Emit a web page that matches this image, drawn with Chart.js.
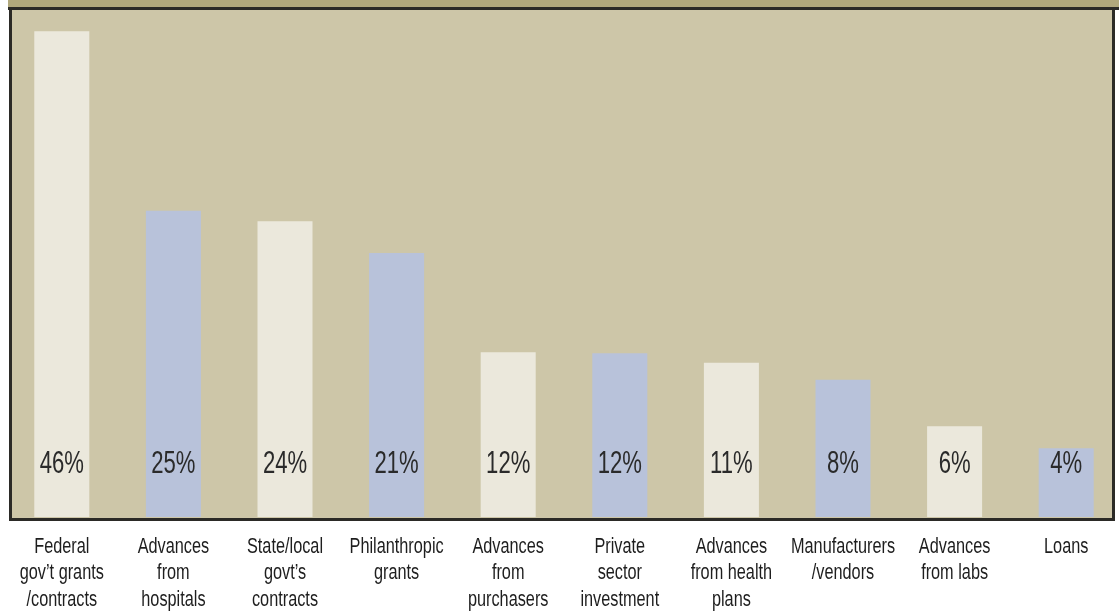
<!DOCTYPE html>
<html>
<head>
<meta charset="utf-8">
<script src="https://cdn.jsdelivr.net/npm/chart.js@4"></script>
<style>
    html, body { margin: 0; padding: 0; background: #ffffff; overflow: hidden; }
    #wrap { width: 1122px; height: 613px; position: relative; }
</style>
</head>
<body>
<div id="wrap"><canvas id="grafico-barras"></canvas></div>
<script>
    const CATEGORIES = [
        ['Federal', 'gov\u2019t grants', '/contracts'],
        ['Advances', 'from', 'hospitals'],
        ['State/local', 'govt\u2019s', 'contracts'],
        ['Philanthropic', 'grants'],
        ['Advances', 'from', 'purchasers'],
        ['Private', 'sector', 'investment'],
        ['Advances', 'from health', 'plans'],
        ['Manufacturers', '/vendors'],
        ['Advances', 'from labs'],
        ['Loans']
    ];
    // printed shares
    const PCT_LABELS = ['46%', '25%', '24%', '21%', '12%', '12%', '11%', '8%', '6%', '4%'];
    // bar heights as drawn in the graphic (they don't scale with the printed shares)
    const BAR_VALUES = [46, 29.0, 28.0, 25.0, 15.6, 15.5, 14.6, 13.0, 8.6, 6.5];
    const Y_MAX = 48;

    const LIGHT = '#ebe8dc';
    const BLUE = '#b8c2da';
    const PANEL = '#cdc6a8';
    const BAND = '#b1a87c';
    const BORDER = '#2b2a26';
    const FONT = '"Liberation Sans", Arial, sans-serif';

    const barColors = BAR_VALUES.map((v, i) => i % 2 === 0 ? LIGHT : BLUE);

    // background panel with dark frame
    const panelPlugin = {
        id: 'panel',
        beforeDraw(chart) {
            const ctx = chart.ctx;
            ctx.save();
            ctx.fillStyle = '#ffffff';
            ctx.fillRect(0, 0, chart.width, chart.height);
            ctx.fillStyle = BAND;
            ctx.fillRect(8, 0, chart.width - 8, 8);
            ctx.fillStyle = BORDER;
            ctx.fillRect(8, 7, chart.width - 8, 3);
            ctx.fillStyle = PANEL;
            ctx.fillRect(9, 10, 1106, 510);
            ctx.strokeStyle = BORDER;
            ctx.lineWidth = 3;
            ctx.beginPath();
            ctx.moveTo(10.5, 8);
            ctx.lineTo(10.5, 519.5);
            ctx.lineTo(1113.5, 519.5);
            ctx.lineTo(1113.5, 8);
            ctx.stroke();
            ctx.restore();
        }
    };

    // condensed text (no narrow font installed, so squeeze horizontally)
    function squeezedText(ctx, text, x, y, sx) {
        ctx.save();
        ctx.translate(x, y);
        ctx.scale(sx, 1);
        ctx.fillText(text, 0, 0);
        ctx.restore();
    }

    // percentage text near the foot of each bar + category names under the frame
    const labelPlugin = {
        id: 'barLabels',
        afterDatasetsDraw(chart) {
            const ctx = chart.ctx;
            const meta = chart.getDatasetMeta(0);
            const bottom = chart.chartArea.bottom;
            ctx.save();
            ctx.textAlign = 'center';
            ctx.textBaseline = 'middle';

            ctx.fillStyle = '#2a2a2a';
            ctx.font = '32px ' + FONT;
            meta.data.forEach((bar, i) => {
                squeezedText(ctx, PCT_LABELS[i], bar.x, bottom - 53, 0.69);
            });

            ctx.fillStyle = '#1e1e1e';
            ctx.font = '22px ' + FONT;
            meta.data.forEach((bar, i) => {
                CATEGORIES[i].forEach((line, j) => {
                    squeezedText(ctx, line, bar.x, bottom + 30 + j * 26.3, 0.74);
                });
            });
            ctx.restore();
        }
    };

    const CHART = document.getElementById('grafico-barras');
    const grafico = new Chart(CHART, {
        type: 'bar',
        data: {
            labels: CATEGORIES,
            datasets: [
                {
                    label: 'Share',
                    data: BAR_VALUES,
                    backgroundColor: barColors,
                    borderWidth: 0,
                    barPercentage: 0.493,
                    categoryPercentage: 1
                }
            ]
        },
        options: {
            responsive: true,
            maintainAspectRatio: false,
            animation: false,
            layout: {
                padding: { left: 6, right: 0, top: 10, bottom: 96 }
            },
            plugins: {
                legend: { display: false },
                tooltip: { enabled: false }
            },
            scales: {
                x: {
                    display: false
                },
                y: {
                    display: false,
                    min: 0,
                    max: Y_MAX
                }
            }
        },
        plugins: [panelPlugin, labelPlugin]
    });
</script>
</body>
</html>
